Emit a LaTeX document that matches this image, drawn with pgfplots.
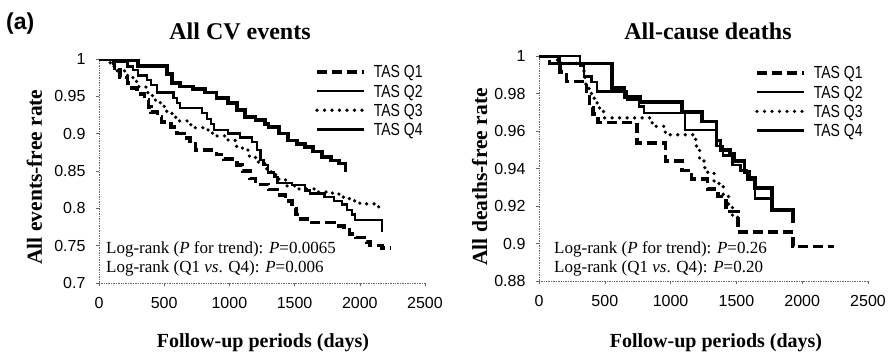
\documentclass[border=0pt]{standalone}
\usepackage{fontspec}
\setmainfont{Liberation Serif}
\setsansfont{Liberation Sans}
\newfontfamily\legfont{Liberation Sans}[FakeStretch=0.8]
\usepackage{pgfplots}
\pgfplotsset{compat=1.18}
\newcommand{\legtxt}[1]{\legfont\fontsize{17.5}{17.5}\selectfont #1}
\pgfplotsset{
  km/.style={
    scale only axis, anchor=south west,
    axis lines*=left,
    axis line style={gray!80!black, densely dotted, line width=0.7pt},
    tick style={gray!80!black, line width=0.5pt},
    major tick length=3pt, tick align=outside,
    xmin=0, xmax=2500, xtick={0,500,1000,1500,2000,2500},
    scaled ticks=false,
    /pgf/number format/1000 sep={},
    /pgf/number format/assume math mode=true,
    ticklabel style={font=\sffamily\fontsize{16}{16}\selectfont},
    xticklabel style={yshift=-8pt},
    yticklabel style={xshift=-7pt},
    legend style={draw=none, fill=none, anchor=north west, inner sep=0pt,
      nodes={inner sep=0pt, text depth=0pt},
      /tikz/every odd column/.append style={column sep=8pt},
      row sep=7pt},
    legend cell align=left,
    legend image code/.code={\draw[##1] (0pt,0pt) -- (47pt,0pt);},
  },
  q1/.style={black, line width=3.6pt, dash pattern=on 10pt off 5pt, const plot},
  q2/.style={black, line width=2.4pt, const plot},
  q3/.style={black, line width=3.6pt, dash pattern=on 0pt off 7.5pt, line cap=round, const plot},
  q4/.style={black, line width=3.6pt, const plot},
}
\begin{document}
\begin{tikzpicture}[x=1pt,y=1pt]
\path[use as bounding box] (0,0) rectangle (889,354);

\begin{axis}[km, at={(99pt,71pt)}, width=326pt, height=224pt,
  ymin=0.7, ymax=1, ytick={0.7,0.75,0.8,0.85,0.9,0.95,1},
  legend style={at={(0.6626,0.971)}}]
\addplot[q1] coordinates {(0,1)(110,0.995)(120,0.988)(160,0.975)(220,0.968)(250,0.961)(290,0.953)(350,0.945)(380,0.936)(400,0.929)(450,0.922)(480,0.916)(550,0.909)(600,0.900)(650,0.894)(700,0.886)(740,0.878)(900,0.872)(960,0.866)(1060,0.858)(1100,0.850)(1160,0.840)(1200,0.832)(1300,0.825)(1370,0.818)(1430,0.810)(1480,0.800)(1510,0.792)(1550,0.786)(1620,0.781)(1800,0.776)(1880,0.771)(1920,0.766)(1970,0.761)(2050,0.755)(2080,0.750)(2170,0.747)(2240,0.747)};
\addlegendentry{\legtxt{TAS Q1}}
\addplot[q2] coordinates {(0,1)(120,0.996)(220,0.99)(260,0.985)(300,0.978)(370,0.972)(400,0.965)(445,0.955)(570,0.948)(600,0.941)(620,0.934)(790,0.928)(830,0.92)(860,0.913)(880,0.905)(990,0.9)(1080,0.895)(1175,0.889)(1210,0.878)(1240,0.865)(1260,0.858)(1295,0.848)(1340,0.842)(1370,0.834)(1480,0.831)(1580,0.824)(1620,0.820)(1730,0.815)(1800,0.810)(1865,0.805)(1900,0.798)(1940,0.792)(1965,0.784)(2170,0.768)};
\addlegendentry{\legtxt{TAS Q2}}
\addplot[q3] coordinates {(0,1)(85,0.995)(110,0.99)(140,0.984)(200,0.978)(260,0.97)(300,0.963)(360,0.955)(410,0.945)(470,0.937)(500,0.930)(560,0.922)(600,0.917)(680,0.912)(730,0.908)(830,0.905)(870,0.897)(990,0.891)(1050,0.883)(1100,0.878)(1150,0.870)(1200,0.862)(1270,0.853)(1320,0.845)(1380,0.838)(1440,0.830)(1500,0.826)(1650,0.822)(1790,0.820)(1840,0.815)(1920,0.810)(2000,0.806)(2120,0.802)(2150,0.795)};
\addlegendentry{\legtxt{TAS Q3}}
\addplot[q4] coordinates {(0,1)(200,0.998)(300,0.991)(520,0.98)(560,0.968)(620,0.963)(720,0.960)(815,0.955)(900,0.948)(990,0.941)(1060,0.932)(1120,0.922)(1200,0.918)(1275,0.913)(1300,0.909)(1380,0.900)(1450,0.891)(1520,0.886)(1580,0.882)(1640,0.876)(1710,0.869)(1780,0.864)(1840,0.860)(1890,0.848)};
\addlegendentry{\legtxt{TAS Q4}}
\end{axis}

\begin{axis}[km, at={(539pt,73pt)}, width=329pt, height=225pt,
  ymin=0.88, ymax=1, ytick={0.88,0.9,0.92,0.94,0.96,0.98,1},
  legend style={at={(0.6565,0.953)}}]
\addplot[q1] coordinates {(0,1)(80,0.996)(160,0.9915)(210,0.9865)(360,0.981)(385,0.9725)(410,0.969)(450,0.9645)(745,0.9535)(960,0.944)(1085,0.939)(1160,0.9345)(1280,0.929)(1360,0.925)(1420,0.917)(1510,0.906)(1930,0.8983)(2240,0.8983)};
\addlegendentry{\legtxt{TAS Q1}}
\addplot[q2] coordinates {(0,1)(310,0.995)(340,0.989)(400,0.986)(440,0.981)(670,0.9765)(760,0.973)(800,0.9695)(1110,0.9605)(1350,0.952)(1400,0.947)(1470,0.942)(1530,0.939)(1580,0.934)(1640,0.924)(1770,0.924)};
\addlegendentry{\legtxt{TAS Q2}}
\addplot[q3] coordinates {(0,1)(140,0.996)(330,0.992)(350,0.985)(380,0.98)(420,0.975)(460,0.9705)(490,0.967)(860,0.9625)(960,0.958)(1190,0.952)(1220,0.944)(1260,0.938)(1330,0.932)(1400,0.926)(1440,0.921)(1470,0.915)(1510,0.911)};
\addlegendentry{\legtxt{TAS Q3}}
\addplot[q4] coordinates {(0,1)(150,0.996)(555,0.983)(650,0.978)(770,0.9755)(1085,0.970)(1240,0.965)(1350,0.955)(1380,0.950)(1450,0.948)(1480,0.944)(1560,0.938)(1600,0.935)(1640,0.9295)(1770,0.918)(1930,0.911)};
\addlegendentry{\legtxt{TAS Q4}}
\end{axis}

% titles and labels
\node[font=\sffamily\bfseries\fontsize{23}{23}\selectfont, anchor=base west, inner sep=0pt] at (6,324) {(a)};
\node[font=\bfseries\fontsize{24}{24}\selectfont, anchor=base, inner sep=0pt] at (240,314) {All CV events};
\node[font=\bfseries\fontsize{24}{24}\selectfont, anchor=base, inner sep=0pt] at (708,314) {All-cause deaths};
\node[font=\bfseries\fontsize{21.5}{21.5}\selectfont, anchor=base, rotate=90, inner sep=0pt] at (42,177) {All events-free rate};
\node[font=\bfseries\fontsize{21.5}{21.5}\selectfont, anchor=base, rotate=90, inner sep=0pt] at (487,177) {All deaths-free rate};
\node[font=\bfseries\fontsize{20}{20}\selectfont, anchor=base, inner sep=0pt] at (263,7) {Follow-up periods (days)};
\node[font=\bfseries\fontsize{20}{20}\selectfont, anchor=base, inner sep=0pt] at (716,7) {Follow-up periods (days)};
% log-rank texts
\node[font=\fontsize{17}{17}\selectfont, anchor=base west, inner sep=0pt] at (106,101) {Log-rank (\textit{P} for trend): \textit{P}=0.0065};
\node[font=\fontsize{17}{17}\selectfont, anchor=base west, inner sep=0pt] at (106,82) {Log-rank (Q1 \textit{vs}. Q4): \textit{P}=0.006};
\node[font=\fontsize{17}{17}\selectfont, anchor=base west, inner sep=0pt] at (554,101) {Log-rank (\textit{P} for trend): \textit{P}=0.26};
\node[font=\fontsize{17}{17}\selectfont, anchor=base west, inner sep=0pt] at (554,82) {Log-rank (Q1 \textit{vs}. Q4): \textit{P}=0.20};
\end{tikzpicture}
\end{document}
